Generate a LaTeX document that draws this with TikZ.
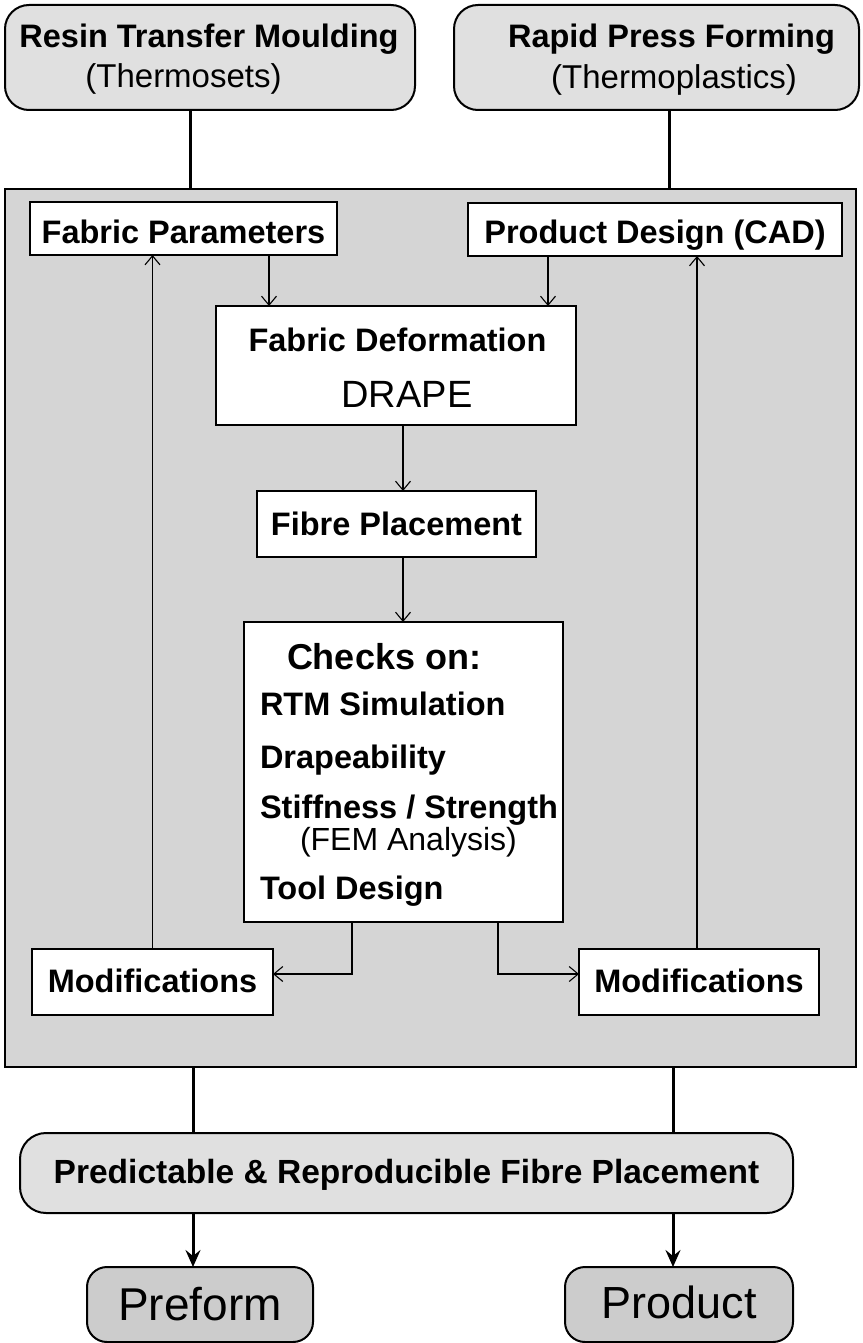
\documentclass[tikz,border=0pt]{standalone}
\usepackage{fontspec}
\setmainfont{Liberation Sans}
\usetikzlibrary{arrows.meta}
\newcommand\setfs[1]{\fontsize{#1}{#1}\selectfont}
\definecolor{panelgray}{gray}{0.835}
\definecolor{capgray}{gray}{0.88}
\definecolor{endgray}{gray}{0.80}
\begin{document}
\begin{tikzpicture}[x=1pt,y=-1pt,
  every node/.style={inner sep=0pt, outer sep=0pt},
  capbox/.style={draw, line width=2pt, fill=capgray, rounded corners=24pt},
  whitebox/.style={draw, line width=1.8pt, fill=white},
  endbox/.style={draw, line width=2pt, fill=endgray, rounded corners=20pt},
  boldtxt/.style={font=\setfs{32.5}\bfseries},
  plaintxt/.style={font=\setfs{33}},
  thinarrow/.style={line width=1.1pt, -{Straight Barb[length=9pt,width=15pt]}},
  thickline/.style={line width=3pt},
  thickarrow/.style={line width=3pt, -{Stealth[length=17pt,width=15pt,inset=6pt]}},
]
\fill[white] (0,0) rectangle (862,1343);
\useasboundingbox (0,0) rectangle (862,1343);

% process headers
\node[capbox, minimum width=410pt, minimum height=105pt] (rtm) at (210,57.5) {};
\node[boldtxt, anchor=base] (rtmA) at (209,48) {Resin Transfer Moulding};
\node[plaintxt, anchor=base] (rtmB) at (183.5,88) {(Thermosets)};
\node[capbox, minimum width=405pt, minimum height=105pt] (rpf) at (656.5,57.5) {};
\node[boldtxt, anchor=base] (rpfA) at (671.5,48) {Rapid Press Forming};
\node[plaintxt, anchor=base] (rpfB) at (674,89) {(Thermoplastics)};

% design loop panel
\node[draw, line width=2pt, fill=panelgray, minimum width=851pt, minimum height=878pt] (panel) at (430.5,628) {};

\node[whitebox, boldtxt, text height=29pt, text depth=0pt, minimum width=307pt, minimum height=53pt] (fabpar) at (183.5,228.5) {Fabric Parameters};
\node[whitebox, boldtxt, text height=27pt, text depth=0pt, minimum width=374pt, minimum height=53pt] (cad) at (655,229.5) {Product Design (CAD)};

\node[whitebox, minimum width=360pt, minimum height=119pt] (drape) at (396,365.5) {};
\node[boldtxt, anchor=base] (drapeA) at (397.5,351) {Fabric Deformation};
\node[font=\setfs{38}, anchor=base] (drapeB) at (407,407) {DRAPE};

\node[whitebox, boldtxt, text height=22pt, text depth=0pt, minimum width=279pt, minimum height=66pt] (fibre) at (396.5,524) {Fibre Placement};

\node[whitebox, minimum width=319pt, minimum height=300pt] (checks) at (403.5,772) {};
\node[font=\setfs{36}\bfseries, anchor=base west] (chkT) at (287,669) {Checks on:};
\node[boldtxt, anchor=base west] (chk1) at (260,715) {RTM Simulation};
\node[boldtxt, anchor=base west] (chk2) at (260,768) {Drapeability};
\node[boldtxt, anchor=base west] (chk3) at (260,818) {Stiffness / Strength};
\node[font=\setfs{32}, anchor=base west] (chk4) at (300,850) {(FEM Analysis)};
\node[boldtxt, anchor=base west] (chk5) at (260,899) {Tool Design};

\node[whitebox, boldtxt, text height=20pt, text depth=0pt, minimum width=241pt, minimum height=66pt] (modL) at (152.5,982) {Modifications};
\node[whitebox, boldtxt, text height=20pt, text depth=0pt, minimum width=240pt, minimum height=66pt] (modR) at (699,982) {Modifications};

% outcome
\node[capbox, rounded corners=26pt, font=\setfs{33.5}\bfseries, text height=20pt, text depth=0pt, minimum width=773pt, minimum height=80pt] (pred) at (406.5,1173) {Predictable \& Reproducible Fibre Placement};
\node[endbox, font=\setfs{46}, text height=31pt, text depth=0pt, minimum width=226pt, minimum height=75pt] (preform) at (200,1304.5) {Preform};
\node[endbox, font=\setfs{45}, text height=27pt, text depth=0pt, minimum width=228pt, minimum height=75pt] (product) at (679,1304.5) {Product};

% connectors
\draw[thickline] ([xshift=-20pt]rtm.south) -- ([xshift=-20pt]rtm.south |- panel.north);
\draw[thickline] ([xshift=12.5pt]rpf.south) -- ([xshift=12.5pt]rpf.south |- panel.north);
\draw[thinarrow] ([xshift=85.5pt]fabpar.south) -- ([xshift=85.5pt]fabpar.south |- drape.north);
\draw[thinarrow] ([xshift=-107pt]cad.south) -- ([xshift=-107pt]cad.south |- drape.north);
\draw[thinarrow] ([xshift=7pt]drape.south) -- ([xshift=7pt]drape.south |- fibre.north);
\draw[thinarrow] ([xshift=6.5pt]fibre.south) -- ([xshift=6.5pt]fibre.south |- checks.north);
\draw[thinarrow] ([xshift=-51.5pt]checks.south) |- ([yshift=8pt]modL.east);
\draw[thinarrow] ([xshift=94.5pt]checks.south) |- ([yshift=8pt]modR.west);
\draw[thinarrow] (modL.north) -- (modL.north |- fabpar.south);
\draw[thinarrow] ([xshift=-2pt]modR.north) -- ([xshift=-2pt]modR.north |- cad.south);
\draw[thickline] ([xshift=-213.5pt]pred.north |- panel.south) -- ([xshift=-213.5pt]pred.north);
\draw[thickline] ([xshift=266.5pt]pred.north |- panel.south) -- ([xshift=266.5pt]pred.north);
\draw[thickarrow] ([xshift=-213.5pt]pred.south) -- ([xshift=-213.5pt]pred.south |- preform.north);
\draw[thickarrow] ([xshift=266.5pt]pred.south) -- ([xshift=266.5pt]pred.south |- product.north);
\end{tikzpicture}
\end{document}
